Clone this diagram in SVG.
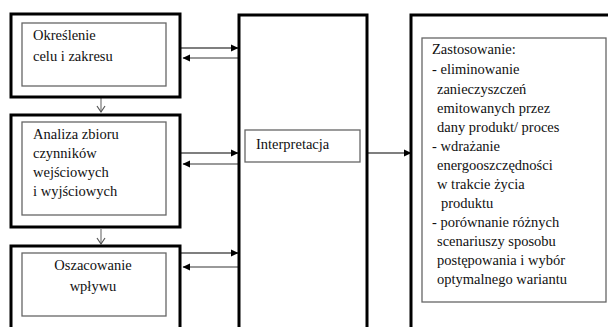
<svg xmlns="http://www.w3.org/2000/svg" width="608" height="327" viewBox="0 0 608 327" font-family="Liberation Serif, serif" font-size="14.5">
<style>
.outer{fill:#fff;stroke:#000;stroke-width:3}
.inner{fill:#fff;stroke:#666;stroke-width:1.3}
.fw{stroke:#000;stroke-width:1.2;fill:none}
.bk{stroke:#999;stroke-width:2;fill:none}
.dn{stroke:#777;stroke-width:1.2;fill:none}
</style>
<defs>
<marker id="ah" markerWidth="8" markerHeight="8" refX="7" refY="4" orient="auto" markerUnits="userSpaceOnUse">
<path d="M0,0.5 L7.5,4 L0,7.5 Z" fill="#000"/>
</marker>
<marker id="av" markerWidth="10" markerHeight="10" refX="5" refY="8" orient="0" markerUnits="userSpaceOnUse">
<path d="M1,2 L5,8 L9,2" fill="none" stroke="#555" stroke-width="1.2"/>
</marker>
</defs>
<rect width="608" height="327" fill="#fff"/>
<g id="connectors">
<line class="fw" x1="181" y1="48" x2="238" y2="48" marker-end="url(#ah)"/>
<line class="bk" x1="238" y1="58" x2="183" y2="58" marker-end="url(#ah)"/>
<line class="fw" x1="181" y1="153" x2="238" y2="153" marker-end="url(#ah)"/>
<line class="bk" x1="238" y1="164" x2="183" y2="164" marker-end="url(#ah)"/>
<line class="fw" x1="181" y1="253" x2="238" y2="253" marker-end="url(#ah)"/>
<line class="bk" x1="238" y1="267" x2="183" y2="267" marker-end="url(#ah)"/>
<line class="fw" x1="368" y1="153" x2="411" y2="153" marker-end="url(#ah)"/>
<line class="dn" x1="101" y1="98" x2="101" y2="112" marker-end="url(#av)"/>
<line class="dn" x1="101" y1="229" x2="101" y2="244" marker-end="url(#av)"/>
</g>
<g id="n1" fill="#111">
<rect class="outer" x="11" y="14" width="169" height="83"/>
<rect class="inner" x="22" y="23" width="144" height="63"/>
<text x="33" y="40">Określenie</text>
<text x="33" y="61">celu i zakresu</text>
</g>
<g id="n2" fill="#111">
<rect class="outer" x="11" y="115" width="169" height="112"/>
<rect class="inner" x="22" y="122" width="144" height="93"/>
<text x="33" y="139">Analiza zbioru</text>
<text x="33" y="158">czynników</text>
<text x="33" y="177">wejściowych</text>
<text x="33" y="196">i wyjściowych</text>
</g>
<g id="n3" fill="#111">
<rect class="outer" x="11" y="246" width="169" height="90"/>
<rect class="inner" x="22" y="253" width="144" height="63"/>
<text x="93" y="270" text-anchor="middle">Oszacowanie</text>
<text x="93" y="291" text-anchor="middle">wpływu</text>
</g>
<g id="n4" fill="#111">
<rect class="outer" x="239" y="15" width="128" height="320"/>
<rect class="inner" x="245" y="130" width="115" height="32"/>
<text x="256" y="149">Interpretacja</text>
</g>
<g id="n5" fill="#111">
<rect class="outer" x="411" y="15" width="210" height="320"/>
<rect class="inner" x="422" y="38" width="184" height="264"/>
<text x="432" y="54">Zastosowanie:</text>
<text x="432" y="74">- eliminowanie</text>
<text x="437" y="94">zanieczyszczeń</text>
<text x="437" y="113">emitowanych przez</text>
<text x="437" y="132">dany produkt/ proces</text>
<text x="432" y="151">- wdrażanie</text>
<text x="437" y="170">energooszczędności</text>
<text x="437" y="189">w trakcie życia</text>
<text x="441" y="208">produktu</text>
<text x="432" y="227">- porównanie różnych</text>
<text x="437" y="246">scenariuszy sposobu</text>
<text x="437" y="265">postępowania i wybór</text>
<text x="437" y="284">optymalnego wariantu</text>
</g>
</svg>
